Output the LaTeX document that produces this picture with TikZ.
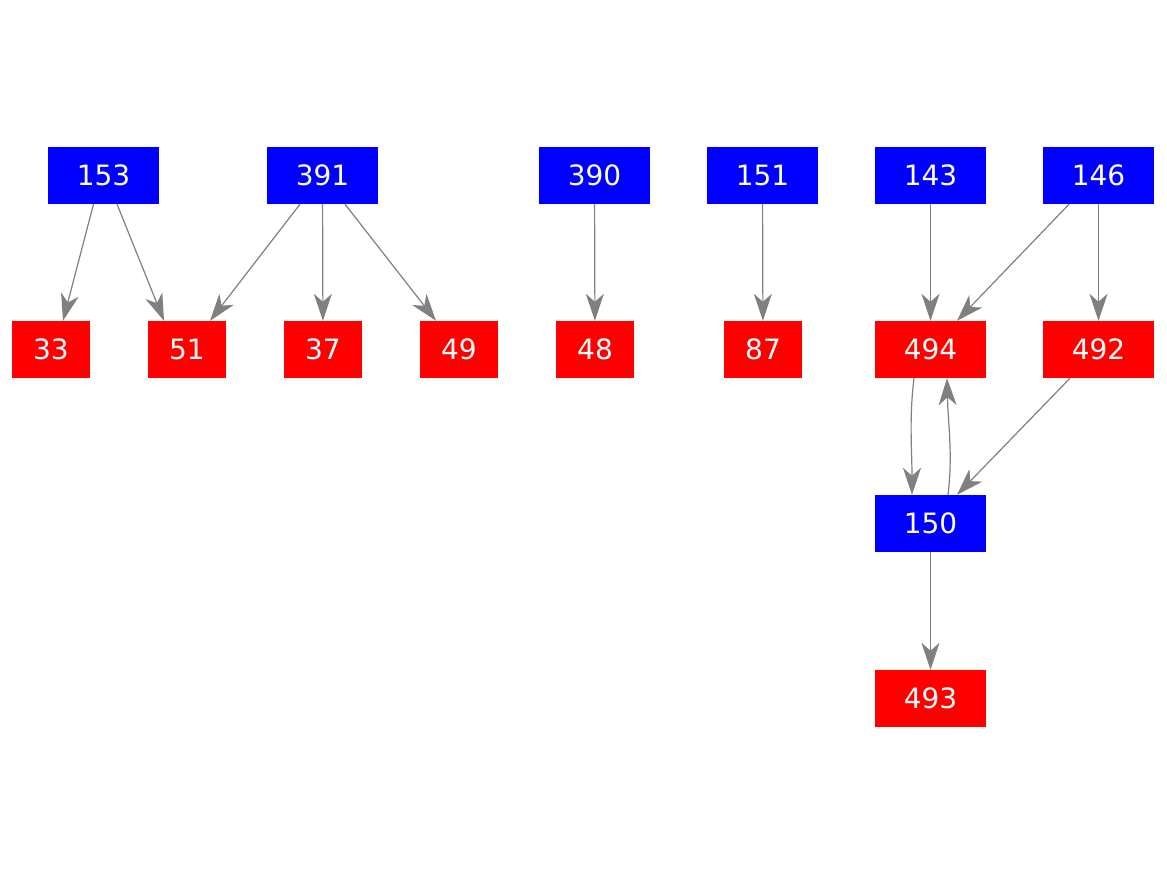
\documentclass[tikz,border=0pt]{standalone}
\usepackage{fontspec}
\setmainfont{DejaVu Sans}
\usetikzlibrary{arrows.meta}
\begin{document}
\begin{tikzpicture}[x=1pt,y=1pt,
  base/.style={inner sep=0pt, minimum height=57pt, text=white, font=\fontsize{28}{28}\selectfont},
  bluebox/.style={base, fill={rgb,255:red,0;green,0;blue,255}, minimum width=111pt},
  redbox/.style={base, fill={rgb,255:red,255;green,0;blue,0}, minimum width=111pt},
  redsmall/.style={base, fill={rgb,255:red,255;green,0;blue,0}, minimum width=78pt},
  edge/.style={draw={rgb,255:red,128;green,128;blue,128}, line width=1.2pt,
    -{Stealth[length=27pt,width=18pt,inset=8pt]}}]
\useasboundingbox[fill=white] (0,0) rectangle (1167,875);
% row 1
\node[bluebox] (n153) at (103.5,699.5) {153};
\node[bluebox] (n391) at (322.5,699.5) {391};
\node[bluebox] (n390) at (594.5,699.5) {390};
\node[bluebox] (n151) at (762.5,699.5) {151};
\node[bluebox] (n143) at (930.5,699.5) {143};
\node[bluebox] (n146) at (1098.5,699.5) {146};
% row 2
\node[redsmall] (n33) at (51,525.5) {33};
\node[redsmall] (n51) at (187,525.5) {51};
\node[redsmall] (n37) at (323,525.5) {37};
\node[redsmall] (n49) at (459,525.5) {49};
\node[redsmall] (n48) at (595,525.5) {48};
\node[redsmall] (n87) at (763,525.5) {87};
\node[redbox] (n494) at (930.5,525.5) {494};
\node[redbox] (n492) at (1098.5,525.5) {492};
% row 3, 4
\node[bluebox] (n150) at (930.5,351.5) {150};
\node[redbox] (n493) at (930.5,176.5) {493};
% edges
\draw[edge] ([xshift=-10pt]n153.south) -- ([xshift=12pt]n33.north);
\draw[edge] ([xshift=13.5pt]n153.south) -- ([xshift=-23pt]n51.north);
\draw[edge] ([xshift=-22.5pt]n391.south) -- ([xshift=23pt]n51.north);
\draw[edge] (n391) -- (n37);
\draw[edge] ([xshift=22.5pt]n391.south) -- ([xshift=-23pt]n49.north);
\draw[edge] (n390) -- (n48);
\draw[edge] (n151) -- (n87);
\draw[edge] (n143) -- (n494);
\draw[edge] ([xshift=-29.5pt]n146.south) -- ([xshift=26.5pt]n494.north);
\draw[edge] (n146) -- (n492);
\draw[edge] ([xshift=-16.5pt]n494.south) .. controls +(-5,-40) and +(0,45) .. ([xshift=-18.5pt]n150.north);
\draw[edge] ([xshift=17.5pt]n150.north) .. controls +(5,40) and +(1,-45) .. ([xshift=16.5pt]n494.south);
\draw[edge] ([xshift=-28.5pt]n492.south) -- ([xshift=26.5pt]n150.north);
\draw[edge] (n150) -- (n493);
\end{tikzpicture}
\end{document}
